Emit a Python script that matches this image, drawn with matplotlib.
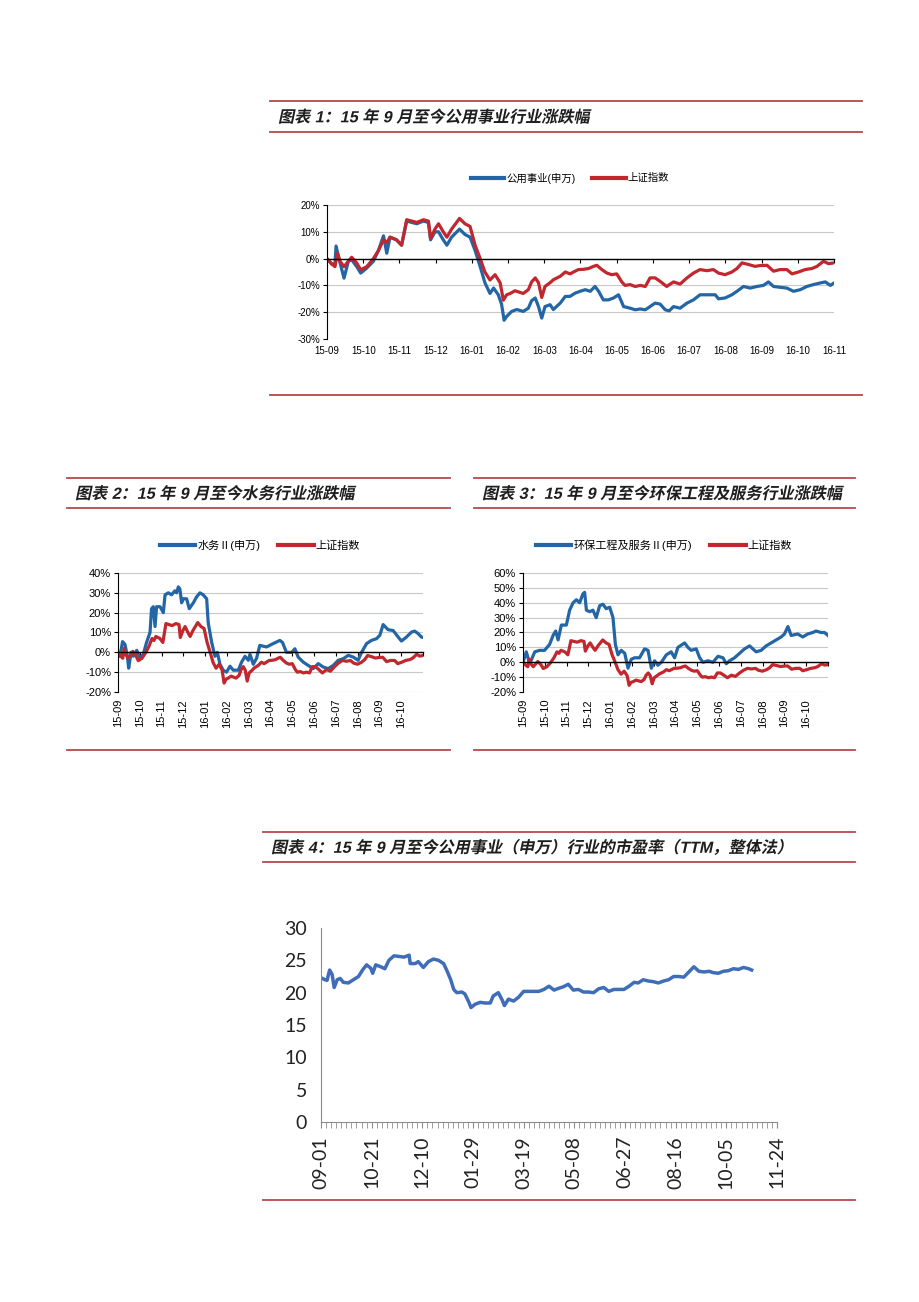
import matplotlib
matplotlib.use('Agg')
import matplotlib.pyplot as plt
from matplotlib.lines import Line2D
from matplotlib.ticker import FuncFormatter
from matplotlib.textpath import TextPath
from matplotlib.patches import PathPatch
from matplotlib.font_manager import FontProperties
from matplotlib.transforms import Affine2D, IdentityTransform
import numpy as np

plt.rcParams['font.family'] = ['Liberation Sans', 'Noto Sans CJK SC']

W, H = 920, 1302
BLUE = '#2266A6'
RED = '#C1272D'
RULE = '#B5494B'

# x 轴: 自 2015-09 起的月数 (0 = 15-09, 14 = 16-11)
month_labels = ['15-09', '15-10', '15-11', '15-12', '16-01', '16-02', '16-03', '16-04',
                '16-05', '16-06', '16-07', '16-08', '16-09', '16-10', '16-11']

# 上证指数 涨跌幅 (%)
sh_m = [0, 0.13, 0.22, 0.29, 0.36, 0.47, 0.59, 0.68, 0.82, 0.93, 1.10, 1.28, 1.42, 1.56, 1.65,
        1.74, 1.92, 2.06, 2.20, 2.34, 2.48, 2.66, 2.80, 2.86, 2.98, 3.08, 3.21, 3.31, 3.44, 3.66,
        3.81, 3.95, 4.09, 4.23, 4.36, 4.50, 4.64, 4.78, 4.87, 4.96, 5.06, 5.19, 5.42, 5.56, 5.65,
        5.75, 5.84, 5.93, 6.02, 6.16, 6.25, 6.44, 6.58, 6.71, 6.85, 6.94, 7.08, 7.22, 7.36, 7.45,
        7.59, 7.73, 7.86, 8.00, 8.14, 8.23, 8.37, 8.51, 8.65, 8.79, 8.92, 9.06, 9.20, 9.38, 9.57,
        9.75, 9.94, 10.12, 10.30, 10.49, 10.67, 10.81, 10.99, 11.18, 11.32, 11.46, 11.64, 11.82,
        11.96, 12.15, 12.33, 12.51, 12.70, 12.84, 13.02, 13.20, 13.39, 13.53, 13.71, 13.85, 14.0]
sh_v = [0, -2, -3, 2, -1, -3, -1, 0.5, -1.6, -4.2, -3, 0, 3, 7, 6,
        8, 7, 5, 14.5, 14, 13.5, 14.5, 14, 7.5, 11, 13, 10, 8, 11, 15,
        13, 12, 5, 0, -5, -8, -6, -9, -15.5, -13.5, -13, -12, -13, -11.6, -8.7,
        -7.2, -9, -14.5, -10.4, -9, -7.9, -6.6, -5, -5.7, -4.7, -4.1, -4, -3.7, -2.9, -2.5,
        -4.1, -5.4, -6, -5.7, -8.7, -10, -9.7, -10.4, -10, -10.4, -7.2, -7.2, -8.5, -10.4, -8.7,
        -9.5, -7.2, -5.4, -4.1, -4.5, -4.1, -5.4, -6, -5, -3.7, -1.6, -2.2, -2.9,
        -2.6, -2.5, -4.7, -4.1, -4.1, -5.7, -5, -4.1, -3.7, -2.9, -1, -1.9, -1.6]

# 公用事业(申万)
util_m = [0, 0.13, 0.22, 0.25, 0.33, 0.47, 0.59, 0.68, 0.82, 0.93, 1.10, 1.28, 1.42, 1.56, 1.65,
          1.74, 1.92, 2.06, 2.20, 2.34, 2.48, 2.66, 2.80, 2.86, 2.98, 3.08, 3.21, 3.31, 3.44, 3.66,
          3.81, 3.95, 4.09, 4.23, 4.36, 4.50, 4.60, 4.73, 4.82, 4.89, 4.96, 5.10, 5.24, 5.42, 5.56,
          5.65, 5.75, 5.84, 5.93, 6.02, 6.16, 6.25, 6.44, 6.58, 6.71, 6.85, 6.99, 7.13, 7.27, 7.40,
          7.50, 7.63, 7.77, 7.91, 8.05, 8.19, 8.37, 8.51, 8.65, 8.79, 8.92, 9.06, 9.20, 9.34, 9.45,
          9.57, 9.75, 9.94, 10.12, 10.30, 10.49, 10.72, 10.81, 10.99, 11.18, 11.32, 11.50, 11.69,
          11.87, 12.05, 12.19, 12.33, 12.51, 12.70, 12.88, 13.07, 13.25, 13.43, 13.62, 13.76, 13.90, 14.0]
util_v = [0, -2, -2, 4.7, 0, -7.3, -1, -0.4, -3, -5.4, -3.5, -1, 3, 8.5, 2,
          8, 7, 5, 14, 13.5, 13, 14, 13.5, 7, 10, 10, 7, 5, 8, 11,
          9, 8, 3, -3, -9, -13, -11, -13.5, -17, -23, -21.6, -19.7, -19, -19.7, -18.5,
          -15.7, -14.7, -17.9, -22.2, -17.9, -17.2, -19, -16.6, -14.1, -14.1, -12.9, -12.2, -11.6, -12.2, -10.4,
          -12.2, -15.4, -15.4, -14.7, -13.5, -17.9, -18.5, -19.1, -18.8, -19.1, -17.9, -16.6, -17, -19.1, -19.5,
          -17.9, -18.5, -16.6, -15.4, -13.5, -13.5, -13.5, -15, -14.7, -13.5, -12.2, -10.4, -11,
          -10.4, -10, -8.7, -10.4, -10.7, -11, -12.2, -11.6, -10.4, -9.7, -9.1, -8.7, -10, -9.1]

# 水务II(申万)
water_m = [0, 0.09, 0.21, 0.32, 0.43, 0.49, 0.60, 0.70, 0.86, 1.01, 1.16, 1.31, 1.47, 1.54, 1.62,
           1.70, 1.77, 1.93, 2.08, 2.16, 2.31, 2.46, 2.61, 2.69, 2.77, 2.84, 2.92, 3.00, 3.15, 3.27,
           3.46, 3.61, 3.76, 3.91, 4.07, 4.14, 4.30, 4.45, 4.56, 4.68, 4.83, 4.98, 5.14, 5.29, 5.52,
           5.67, 5.83, 5.98, 6.06, 6.21, 6.36, 6.51, 6.82, 7.12, 7.43, 7.55, 7.73, 7.97, 8.12, 8.27,
           8.50, 8.73, 8.96, 9.19, 9.42, 9.65, 9.88, 10.11, 10.34, 10.57, 10.80, 11.02, 11.18, 11.41,
           11.63, 11.87, 12.02, 12.17, 12.40, 12.63, 12.86, 13.01, 13.24, 13.47, 13.62, 13.78, 13.93, 14.0]
water_v = [0, -2, 5.4, 4, -2, -8, 0, -2, 1, -3, -1, 5, 10, 22, 23,
           13, 23, 23, 20, 29, 30, 29, 31, 30, 33, 32, 25, 27, 27, 22,
           25, 28, 30, 29, 27, 15, 5, -2, 0, -6, -9, -10, -7, -9, -9,
           -5, -2, -4, -1, -6, -3, 3.5, 2.7, 4.4, 6, 5, 0, 0, 1.8, -2.4,
           -4.9, -6.6, -8.2, -5.7, -7.4, -8.2, -6.6, -4, -3.2, -1.5, -2.4, -4, 0, 4.4,
           6, 6.9, 8.6, 14, 11.4, 11, 7.7, 5.7, 7.7, 10.2, 10.7, 9.4, 7.7, 7.5]

# 环保工程及服务II(申万)
env_m = [0, 0.15, 0.31, 0.54, 0.77, 0.99, 1.22, 1.38, 1.50, 1.61, 1.76, 1.99, 2.14, 2.30, 2.45,
         2.60, 2.75, 2.83, 2.91, 3.06, 3.21, 3.36, 3.52, 3.67, 3.82, 3.98, 4.13, 4.24, 4.36, 4.51,
         4.67, 4.82, 4.97, 5.12, 5.35, 5.58, 5.74, 5.89, 6.04, 6.19, 6.35, 6.58, 6.80, 6.96, 7.11,
         7.42, 7.57, 7.72, 7.95, 8.11, 8.26, 8.49, 8.72, 8.95, 9.18, 9.33, 9.48, 9.71, 9.94, 10.17,
         10.40, 10.55, 10.70, 10.93, 11.16, 11.39, 11.62, 11.85, 12.00, 12.16, 12.31, 12.61, 12.84,
         13.07, 13.30, 13.45, 13.68, 13.84, 14.0]
env_v = [0, 7, -1, 7, 8, 8, 12, 18, 21, 15, 25, 25, 35, 40, 42,
         40, 46, 47, 35, 34, 35, 30, 38, 39, 36, 37, 30, 12, 5, 8,
         6, -4, 2, 3, 3, 9, 8, -4, 1, -2, 0, 5, 7, 3, 10,
         13, 10, 8, 9, 3, 0, 1, 0, 4, 3, -1, 1, 3, 6, 9,
         11, 9, 7, 8, 11, 13, 15, 17, 19, 24, 18, 19, 17,
         19, 20, 21, 20, 20, 18]

# 公用事业(申万) 市盈率 TTM: 自 2015-09-01 起的天数
pe_day = [0, 4, 6, 8.5, 11, 13, 16, 19, 22, 27, 32, 37, 41, 45, 49, 51, 54, 59, 63, 67, 72, 77, 82,
          87, 88, 93, 96, 101, 106, 111, 116, 121, 124, 128, 131, 134, 139, 142, 146, 148, 152, 157,
          162, 167, 170, 175, 179, 181, 185, 190, 195, 200, 205, 210, 215, 220, 225, 230, 235, 239,
          244, 249, 254, 259, 264, 269, 274, 279, 284, 289, 294, 299, 304, 309, 313, 318, 323, 328,
          333, 338, 343, 348, 353, 358, 363, 368, 373, 378, 383, 387, 392, 397, 402, 407, 412, 417,
          422, 425]
pe_val = [22.3, 22.0, 21.9, 23.5, 22.8, 20.8, 22.0, 22.2, 21.6, 21.5, 22.0, 22.5, 23.5, 24.3, 23.8,
          23.0, 24.3, 24.0, 23.7, 25.0, 25.7, 25.6, 25.5, 25.8, 24.5, 24.5, 24.8, 23.9, 24.8, 25.2,
          25.0, 24.5, 23.5, 22.0, 20.5, 20.0, 20.1, 19.8, 18.5, 17.7, 18.2, 18.5, 18.4, 18.4, 19.5,
          20.0, 18.8, 18.0, 19.0, 18.7, 19.3, 20.2, 20.2, 20.2, 20.2, 20.5, 21.0, 20.4, 20.7, 20.9,
          21.3, 20.4, 20.5, 20.1, 20.1, 20.0, 20.6, 20.8, 20.2, 20.5, 20.5, 20.5, 21.0, 21.6, 21.5,
          22.0, 21.8, 21.7, 21.5, 21.8, 22.0, 22.5, 22.5, 22.4, 23.2, 24.0, 23.3, 23.2, 23.3, 23.1,
          23.0, 23.3, 23.4, 23.7, 23.6, 23.9, 23.7, 23.5]
pe_start = np.datetime64('2015-09-01')

fig = plt.figure(figsize=(W / 100, H / 100), dpi=100)
title_font = FontProperties(family=['Liberation Sans', 'Noto Sans CJK SC'], weight='bold')


def box(l, t, r, b):
    return [l / W, 1 - b / H, (r - l) / W, (b - t) / H]


def hline(x0, x1, y):
    fig.add_artist(Line2D([x0 / W, x1 / W], [1 - y / H, 1 - y / H], color=RULE, lw=1.3))


def header(x0, x1, y_top, y_bot, y_foot, title, size=11.6):
    for y in (y_top, y_bot, y_foot):
        hline(x0, x1, y)
    # 斜体标题: 文字路径 + 剪切变换
    px = size * 100 / 72
    path = TextPath((0, 0), title, size=px, prop=title_font)
    base = H - (y_top + y_bot) / 2 - 0.36 * px
    tr = Affine2D().skew_deg(12, 0).translate(x0 + 8, base) + IdentityTransform()
    fig.add_artist(PathPatch(path, transform=tr, facecolor='#1E1E1E', lw=0))


def pct_chart(rect, series, lo, hi, n_labels, rotate, fs):
    ax = fig.add_axes(rect)
    for xm, yv, c in series:
        ax.plot(xm, yv, color=c, lw=2.3, solid_joinstyle='round')
    ax.set_xlim(0, 14)
    ax.set_ylim(lo, hi)
    ax.set_yticks(np.arange(lo, hi + 1, 10))
    ax.yaxis.set_major_formatter(FuncFormatter(lambda v, p: f'{v:.0f}%'))
    ax.grid(axis='y', color='#C8C8C8', lw=0.8)
    ax.set_axisbelow(True)
    for s in ('top', 'right'):
        ax.spines[s].set_visible(False)
    ax.spines['left'].set_color('black')
    ax.spines['bottom'].set_position(('data', 0))
    ax.spines['bottom'].set_linewidth(1.0)
    ax.set_xticks(np.arange(1, 15))
    ax.tick_params(axis='x', direction='out', length=3, labelbottom=False)
    ax.tick_params(axis='y', direction='out', length=3, labelsize=fs, pad=2)
    sec = ax.secondary_xaxis(0)
    sec.spines['bottom'].set_visible(False)
    sec.set_xticks(np.arange(n_labels), month_labels[:n_labels],
                   rotation=90 if rotate else 0)
    sec.tick_params(length=0, labelsize=fs, pad=5)
    return ax


def legend(cx, cy, labels, fs):
    handles = [Line2D([], [], color=BLUE, lw=3), Line2D([], [], color=RED, lw=3)]
    fig.legend(handles, labels, loc='center', bbox_to_anchor=(cx / W, 1 - cy / H), ncol=2,
               frameon=False, fontsize=fs, handlelength=3.2, handletextpad=0.2,
               columnspacing=1.6)


# 图表1
header(270, 862, 101, 132, 395, '图表 1：15 年 9 月至今公用事业行业涨跌幅')
pct_chart(box(327, 205, 834, 339), [(util_m, util_v, BLUE), (sh_m, sh_v, RED)],
          -30, 20, 15, False, 7)
legend(570, 178, ['公用事业(申万)', '上证指数'], 7.5)

# 图表2
header(67, 450, 478, 508, 750, '图表 2：15 年 9 月至今水务行业涨跌幅')
pct_chart(box(118, 573, 423, 692), [(water_m, water_v, BLUE), (sh_m, sh_v, RED)],
          -20, 40, 14, True, 8)
legend(260, 545, ['水务Ⅱ(申万)', '上证指数'], 8)

# 图表3
header(474, 855, 478, 508, 750, '图表 3：15 年 9 月至今环保工程及服务行业涨跌幅')
pct_chart(box(523, 573, 828, 692), [(env_m, env_v, BLUE), (sh_m, sh_v, RED)],
          -20, 60, 14, True, 8)
legend(664, 545, ['环保工程及服务Ⅱ(申万)', '上证指数'], 8)

# 图表4
header(263, 855, 832, 862, 1200, '图表 4：15 年 9 月至今公用事业（申万）行业的市盈率（TTM，整体法）')
ax4 = fig.add_axes(box(321, 928, 777, 1122))
pe_x = np.array(pe_day)
ax4.plot(pe_x, pe_val, color='#3F6DB8', lw=2.5, solid_joinstyle='round')
ax4.set_xlim(0, 450)
ax4.set_ylim(0, 30)
ax4.set_yticks(np.arange(0, 31, 5))
major = np.arange(0, 451, 50)
ax4.set_xticks(major)
ax4.set_xticks(np.arange(0, 451, 5), minor=True)
major_dates = pe_start + major.astype('timedelta64[D]')
ax4.set_xticklabels([str(d)[5:] for d in major_dates], rotation=90)
for s in ('top', 'right'):
    ax4.spines[s].set_visible(False)
for s in ('left', 'bottom'):
    ax4.spines[s].set_color('#8C8C8C')
ax4.tick_params(axis='x', which='both', direction='out', length=4, color='#8C8C8C')
ax4.tick_params(axis='x', labelsize=14, pad=6)
ax4.tick_params(axis='y', length=0, labelsize=14, pad=10)
for t in ax4.get_xticklabels() + ax4.get_yticklabels():
    t.set_fontfamily('Lato')
    t.set_color('#222222')

fig.savefig('out.png', dpi=100)
